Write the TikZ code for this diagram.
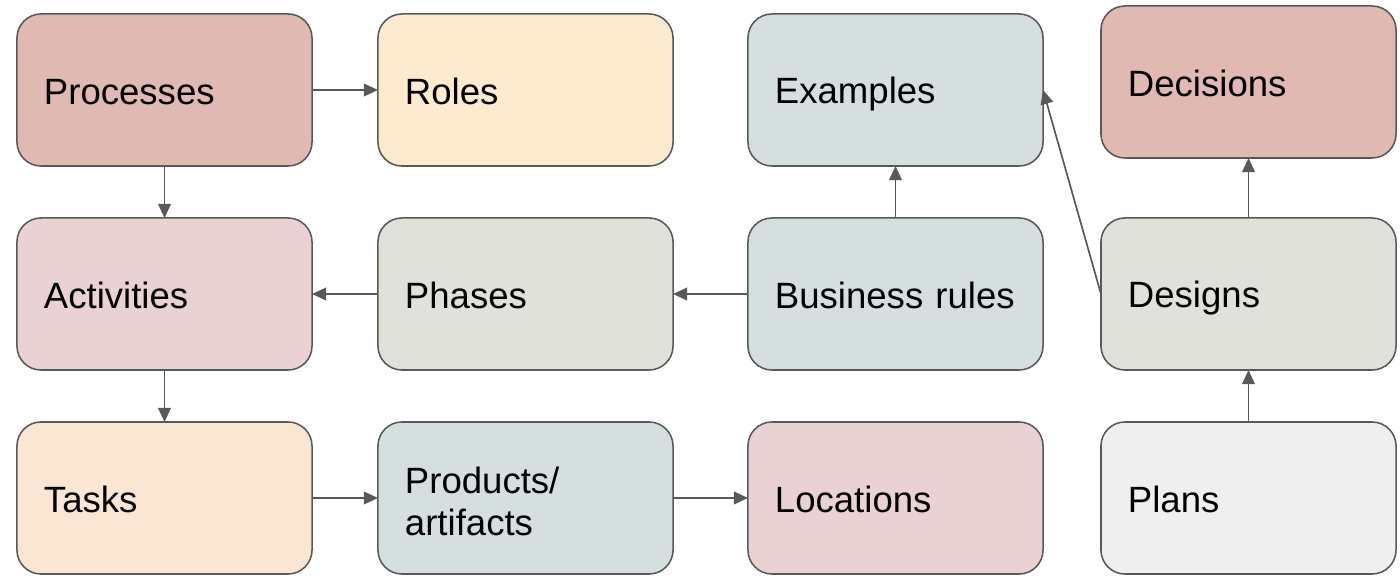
\documentclass[tikz,border=0pt]{standalone}
\usepackage{fontspec}
\setmainfont{Liberation Sans}
\usetikzlibrary{arrows.meta}
\usetikzlibrary{positioning}

\definecolor{boxline}{HTML}{595959}
\definecolor{redbox}{HTML}{DFB9B2}
\definecolor{creambox}{HTML}{FDEBD0}
\definecolor{bluebox}{HTML}{D5DFE0}
\definecolor{pinkbox}{HTML}{EAD1D4}
\definecolor{mixbox}{HTML}{E0E1DA}
\definecolor{peachbox}{HTML}{FBE5D3}
\definecolor{greybox}{HTML}{EFEFEF}

\newcommand{\boxstrut}{\rule[-3pt]{0pt}{27pt}}

\begin{document}
\begin{tikzpicture}[x=0.025cm, y=-0.025cm,
    every node/.style={draw=boxline, line width=1.1pt, rounded corners=0.6cm, outer sep=0pt,
      minimum width=7.375cm, minimum height=3.8cm, inner xsep=0.675cm, text width=6.025cm,
      align=left, font=\fontsize{26}{30}\selectfont, execute at begin node=\boxstrut},
    conn/.style={draw=boxline, line width=1.2pt, -{Triangle[length=10pt, width=9pt]}}]
          \useasboundingbox (0,0) rectangle (1400,582);

          \node[fill=redbox] (proc) at (164.5, 90) {Processes};

          \node[fill=creambox] (roles) at (525.5, 90) {Roles};

          \node[fill=bluebox] (examples) at (895.5, 90) {Examples};

          \node[fill=redbox] (decisions) at (1248.5, 82) {Decisions};

          \node[fill=pinkbox] (activ) at (164.5, 294) {Activities};

          \node[fill=mixbox] (phases) at (525.5, 294) {Phases};

          \node[fill=bluebox] (rules) at (895.5, 294) {Business rules};

          \node[fill=mixbox] (designs) at (1248.5, 294) {Designs};

          \node[fill=peachbox] (tasks) at (164.5, 498) {Tasks};

          \node[fill=bluebox] (products) at (525.5, 498) {Products/\\artifacts};

          \node[fill=pinkbox] (locations) at (895.5, 498) {Locations};

          \node[fill=greybox] (plans) at (1248.5, 498) {Plans};

          \draw[conn] (proc) -- (roles);
          \draw[conn] (proc) -- (activ);
          \draw[conn] (activ) -- (tasks);
          \draw[conn] (phases) -- (activ);
          \draw[conn] (rules) -- (phases);
          \draw[conn] (rules) -- (examples);
          \draw[conn] (designs.west) -- (examples.east);
          \draw[conn] (designs) -- (designs |- decisions.south);
          \draw[conn] (plans) -- (designs);
          \draw[conn] (tasks) -- (products);
          \draw[conn] (products) -- (locations);
        \end{tikzpicture}
\end{document}
